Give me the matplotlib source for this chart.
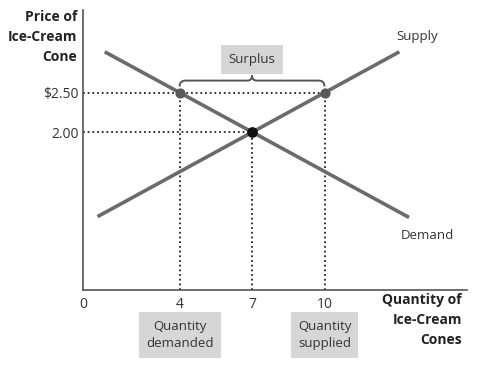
import matplotlib
matplotlib.use('Agg')
import matplotlib.pyplot as plt
from matplotlib.path import Path
from matplotlib.patches import PathPatch
from matplotlib.transforms import blended_transform_factory

plt.rcParams['font.family'] = ['Open Sans', 'DejaVu Sans']

# ===================== DATA =====================
supply_qty = [0.6, 13.1]
supply_price = [0.93, 3.02]
demand_qty = [0.9, 13.5]
demand_price = [3.02, 0.92]

qty_demanded = 4
qty_supplied = 10
eq_qty = 7
price_high = 2.50
eq_price = 2.00

x_ticks = [0, 4, 7, 10]
x_ticklabels = ["0", "4", "7", "10"]
y_ticks = [2.50, 2.00]
y_ticklabels = ["$2.50", "2.00"]

LINE = "#6b6b6b"
TXT = "#333333"
BOX = "#d6d6d6"

# ===================== FIGURE =====================
fig = plt.figure(figsize=(4.87, 3.70), dpi=100)
ax = fig.add_axes([83 / 487, 80 / 370, 384 / 487, 280 / 370])
ax.set_xlim(0, 15.9)
ax.set_ylim(0, 3.55)

for s in ["top", "right"]:
    ax.spines[s].set_visible(False)
for s in ["left", "bottom"]:
    ax.spines[s].set_color("#555555")
    ax.spines[s].set_linewidth(1.2)

ax.set_xticks(x_ticks)
ax.set_xticklabels(x_ticklabels)
ax.set_yticks(y_ticks)
ax.set_yticklabels(y_ticklabels)
ax.tick_params(axis="x", length=0, labelsize=10, colors=TXT, pad=5)
ax.tick_params(axis="y", length=0, labelsize=10, colors=TXT, pad=3)

# dotted guides
dot = dict(color="#222222", linestyle=(0, (1, 1.6)), linewidth=1.3, zorder=1)
ax.plot([0, qty_supplied], [price_high, price_high], **dot)
ax.plot([0, eq_qty], [eq_price, eq_price], **dot)
ax.plot([qty_demanded, qty_demanded], [0, price_high], **dot)
ax.plot([eq_qty, eq_qty], [0, eq_price], **dot)
ax.plot([qty_supplied, qty_supplied], [0, price_high], **dot)

# curves
ax.plot(supply_qty, supply_price, color=LINE, linewidth=2.6, solid_capstyle="butt", zorder=2)
ax.plot(demand_qty, demand_price, color=LINE, linewidth=2.6, solid_capstyle="butt", zorder=2)

ax.scatter([qty_demanded, qty_supplied], [price_high, price_high], s=40, color="#5a5a5a", zorder=3)
ax.scatter([eq_qty], [eq_price], s=45, color="#111111", zorder=4)

ax.text(13.85, 3.21, "Supply", fontsize=9.5, color=TXT, ha="center", va="center")
ax.text(14.25, 0.685, "Demand", fontsize=9.5, color=TXT, ha="center", va="center")

# surplus brace
y0, y1, y2 = 2.58, 2.655, 2.72
mid = (qty_demanded + qty_supplied) / 2
verts = [(qty_demanded, y0), (qty_demanded, y1), (qty_demanded + 0.25, y1),
         (mid - 0.2, y1), (mid, y1), (mid, y2),
         (mid, y1), (mid + 0.2, y1),
         (qty_supplied - 0.25, y1), (qty_supplied, y1), (qty_supplied, y0)]
codes = [Path.MOVETO, Path.CURVE3, Path.CURVE3,
         Path.LINETO, Path.CURVE3, Path.CURVE3,
         Path.CURVE3, Path.CURVE3,
         Path.LINETO, Path.CURVE3, Path.CURVE3]
ax.add_patch(PathPatch(Path(verts, codes), facecolor="none", edgecolor="#555555", linewidth=1.4))

ax.text(mid, 2.92, "Surplus", fontsize=9.5, color=TXT, ha="center", va="center",
        bbox=dict(boxstyle="square,pad=0.6", facecolor=BOX, edgecolor="none"))

# quantity boxes under the axis
trans = blended_transform_factory(ax.transData, fig.transFigure)
box = dict(boxstyle="square,pad=0.55", facecolor=BOX, edgecolor="none")
ax.text(qty_demanded, 1 - 335 / 370, "Quantity\ndemanded", transform=trans, fontsize=9.5,
        color=TXT, ha="center", va="center", linespacing=1.45, clip_on=False, bbox=box)
ax.text(qty_supplied, 1 - 335 / 370, "Quantity\nsupplied", transform=trans, fontsize=9.5,
        color=TXT, ha="center", va="center", linespacing=1.45, clip_on=False, bbox=box)

# axis titles
fig.text(77 / 487, 1 - 10 / 370, "Price of\nIce-Cream\nCone", fontsize=10, fontweight="bold",
         color="#222222", ha="right", va="top", linespacing=1.55)
fig.text(462 / 487, 1 - 293 / 370, "Quantity of\nIce-Cream\nCones", fontsize=10, fontweight="bold",
         color="#222222", ha="right", va="top", linespacing=1.55)

fig.savefig("out.png", dpi=100)
